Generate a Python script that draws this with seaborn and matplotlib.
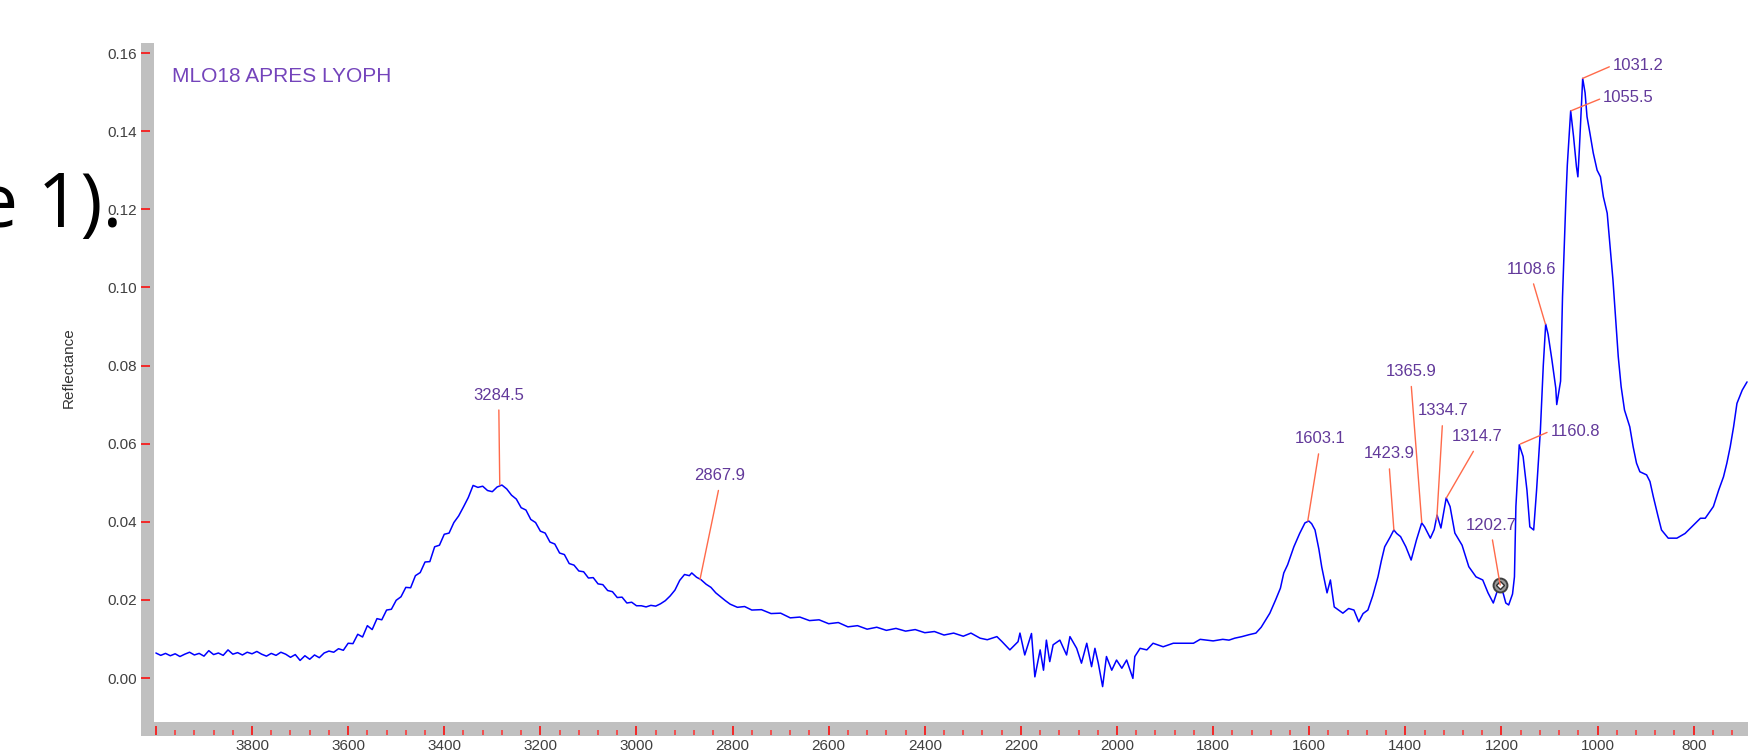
import matplotlib
matplotlib.use("Agg")
import matplotlib.pyplot as plt
from matplotlib.patches import Rectangle
import seaborn as sns

# Spectrum (wavenumber cm-1, reflectance)
wavenumber = [
    4000, 3990, 3980, 3970, 3960, 3950, 3940, 3930, 3920, 3910, 3900, 3890, 3880, 3870, 3860,
    3850, 3840, 3830, 3820, 3810, 3800, 3790, 3780, 3770, 3760, 3750, 3740, 3730, 3720, 3710,
    3700, 3690, 3680, 3670, 3660, 3650, 3640, 3630, 3620, 3610, 3600, 3590, 3580, 3570, 3560,
    3550, 3540, 3530, 3520, 3510, 3500, 3490, 3480, 3470, 3460, 3450, 3440, 3430, 3420, 3410,
    3400, 3390, 3380, 3370, 3360, 3350, 3340, 3330, 3320, 3310, 3300, 3290, 3280, 3270, 3260,
    3250, 3240, 3230, 3220, 3210, 3200, 3190, 3180, 3170, 3160, 3150, 3140, 3130, 3120, 3110,
    3100, 3090, 3080, 3070, 3060, 3050, 3040, 3030, 3020, 3010, 3000, 2990, 2980, 2970, 2960,
    2950, 2940, 2930, 2920, 2910, 2900, 2890, 2885, 2875, 2866, 2855, 2845, 2835, 2825, 2815,
    2805, 2790, 2775, 2760, 2740, 2720, 2700, 2680, 2660, 2640, 2620, 2600, 2580, 2560, 2540,
    2520, 2500, 2480, 2460, 2440, 2420, 2400, 2380, 2360, 2340, 2320, 2304, 2285, 2270, 2250,
    2240, 2223, 2206, 2202, 2192, 2178, 2171, 2160, 2153, 2147, 2140, 2133, 2119, 2105, 2098,
    2084, 2074, 2063, 2053, 2046, 2039, 2030, 2022, 2011, 2001, 1990, 1980, 1967, 1963, 1952,
    1938, 1925, 1904, 1883, 1862, 1841, 1827, 1800, 1780, 1767, 1755, 1740, 1725, 1711, 1700,
    1690, 1682, 1670, 1660, 1653, 1645, 1632, 1620, 1609, 1601, 1595, 1588, 1580, 1574, 1563,
    1556, 1548, 1540, 1530, 1518, 1507, 1497, 1488, 1478, 1468, 1457, 1450, 1443, 1432, 1424,
    1418, 1410, 1399, 1388, 1377, 1366, 1360, 1348, 1340, 1334, 1326, 1315, 1307, 1297, 1282,
    1268, 1253, 1239, 1228, 1217, 1210, 1203, 1196, 1191, 1185, 1177, 1173, 1170, 1163, 1155,
    1147, 1141, 1133, 1127, 1119, 1113, 1108, 1103, 1095, 1087, 1085, 1077, 1073, 1069, 1066,
    1063, 1056, 1050, 1044, 1041, 1038, 1035, 1031, 1026, 1022, 1016, 1009, 1001, 994, 988,
    980, 974, 968, 963, 957, 951, 944, 933, 926, 919, 912, 898, 891, 884, 874,
    867, 853, 835, 818, 800, 786, 776, 759, 748, 738, 731, 724, 717, 710, 699,
    689,
]
reflectance = [
    0.0064, 0.0058, 0.0063, 0.0057, 0.0062, 0.0055, 0.0061, 0.0066, 0.0059, 0.0063, 0.0056, 0.0070, 0.0060, 0.0064, 0.0058,
    0.0072, 0.0061, 0.0065, 0.0059, 0.0066, 0.0062, 0.0068, 0.0061, 0.0056, 0.0063, 0.0058, 0.0066, 0.0061, 0.0053, 0.0060,
    0.0045, 0.0057, 0.0048, 0.0059, 0.0052, 0.0064, 0.0069, 0.0066, 0.0075, 0.0071, 0.0089, 0.0088, 0.0112, 0.0105, 0.0134,
    0.0124, 0.0152, 0.0149, 0.0174, 0.0176, 0.0199, 0.0208, 0.0232, 0.0231, 0.0262, 0.0270, 0.0297, 0.0298, 0.0336, 0.0340,
    0.0368, 0.0371, 0.0398, 0.0415, 0.0438, 0.0462, 0.0493, 0.0488, 0.0491, 0.0480, 0.0477, 0.0489, 0.0494, 0.0484, 0.0468,
    0.0458, 0.0436, 0.0430, 0.0406, 0.0398, 0.0376, 0.0371, 0.0348, 0.0343, 0.0320, 0.0316, 0.0293, 0.0289, 0.0274, 0.0272,
    0.0256, 0.0257, 0.0241, 0.0239, 0.0224, 0.0221, 0.0206, 0.0207, 0.0192, 0.0194, 0.0185, 0.0185, 0.0182, 0.0186, 0.0184,
    0.0190, 0.0198, 0.0210, 0.0225, 0.0250, 0.0265, 0.0262, 0.0269, 0.0258, 0.0252, 0.0240, 0.0232, 0.0218, 0.0208, 0.0198,
    0.0189, 0.0181, 0.0183, 0.0174, 0.0175, 0.0165, 0.0166, 0.0154, 0.0156, 0.0147, 0.0149, 0.0139, 0.0142, 0.0131, 0.0134,
    0.0125, 0.0130, 0.0122, 0.0127, 0.0120, 0.0124, 0.0116, 0.0119, 0.0110, 0.0115, 0.0107, 0.0115, 0.0102, 0.0098, 0.0106,
    0.0094, 0.0072, 0.0093, 0.0115, 0.0059, 0.0114, 0.0003, 0.0072, 0.0020, 0.0097, 0.0042, 0.0085, 0.0097, 0.0059, 0.0106,
    0.0076, 0.0038, 0.0089, 0.0029, 0.0076, 0.0038, -0.0022, 0.0055, 0.0020, 0.0046, 0.0025, 0.0046, -0.0001, 0.0055, 0.0076,
    0.0072, 0.0089, 0.0080, 0.0089, 0.0089, 0.0089, 0.0099, 0.0095, 0.0099, 0.0097, 0.0102, 0.0106, 0.0111, 0.0115, 0.0130,
    0.0150, 0.0166, 0.0200, 0.0230, 0.0269, 0.0290, 0.0336, 0.0370, 0.0397, 0.0402, 0.0395, 0.0379, 0.0330, 0.0284, 0.0218,
    0.0251, 0.0182, 0.0175, 0.0166, 0.0178, 0.0174, 0.0144, 0.0165, 0.0174, 0.0210, 0.0259, 0.0300, 0.0336, 0.0360, 0.0379,
    0.0370, 0.0362, 0.0336, 0.0302, 0.0353, 0.0397, 0.0387, 0.0358, 0.0380, 0.0417, 0.0384, 0.0461, 0.0439, 0.0371, 0.0340,
    0.0285, 0.0259, 0.0251, 0.0218, 0.0192, 0.0218, 0.0238, 0.0215, 0.0192, 0.0187, 0.0215, 0.0259, 0.0439, 0.0597, 0.0567,
    0.0481, 0.0387, 0.0379, 0.0480, 0.0635, 0.0800, 0.0906, 0.0880, 0.0814, 0.0742, 0.0700, 0.0760, 0.0975, 0.1120, 0.1224,
    0.1313, 0.1452, 0.1386, 0.1309, 0.1283, 0.1352, 0.1428, 0.1535, 0.1498, 0.1437, 0.1395, 0.1344, 0.1300, 0.1283, 0.1232,
    0.1190, 0.1104, 0.1019, 0.0930, 0.0823, 0.0746, 0.0686, 0.0643, 0.0592, 0.0550, 0.0528, 0.0520, 0.0503, 0.0464, 0.0413,
    0.0379, 0.0358, 0.0358, 0.0370, 0.0392, 0.0409, 0.0409, 0.0439, 0.0481, 0.0515, 0.0550, 0.0592, 0.0643, 0.0703, 0.0737,
    0.0758,
]

# Peak picks
peak_labels = ["3284.5", "2867.9", "1603.1", "1423.9", "1365.9", "1334.7",
               "1314.7", "1202.7", "1160.8", "1108.6", "1055.5", "1031.2"]
peak_wn = [3284.5, 2867.9, 1603.1, 1423.9, 1365.9, 1334.7,
           1314.7, 1202.7, 1160.8, 1108.6, 1055.5, 1031.2]
peak_refl = [0.0494, 0.0252, 0.0402, 0.0379, 0.0398, 0.0405,
             0.0461, 0.0238, 0.0599, 0.0906, 0.1452, 0.1535]
cursor_wn = 1202.7
cursor_refl = 0.0238

x_ticks = [4000, 3800, 3600, 3400, 3200, 3000, 2800, 2600, 2400, 2200,
           2000, 1800, 1600, 1400, 1200, 1000, 800]
x_tick_labels = ["", "3800", "3600", "3400", "3200", "3000", "2800", "2600", "2400", "2200",
                 "2000", "1800", "1600", "1400", "1200", "1000", "800"]
y_ticks = [0.00, 0.02, 0.04, 0.06, 0.08, 0.10, 0.12, 0.14, 0.16]
y_tick_labels = ["0.00", "0.02", "0.04", "0.06", "0.08", "0.10", "0.12", "0.14", "0.16"]

title = "MLO18 APRES LYOPH"
y_label = "Reflectance"

# label placement (pixel offsets from the peak tip, text alignment)
label_offsets = [(-1, 90, "center"), (20, 104, "center"), (12, 82, "center"),
                 (-5, 76, "center"), (-11, 151, "center"), (6, 109, "center"),
                 (31, 61, "center"), (-9, 60, "center"), (30, 13, "left"),
                 (-14, 55, "center"), (32, 13, "left"), (30, 13, "left")]

sns.set_style("white")
plt.rcParams["font.family"] = ["Liberation Sans", "DejaVu Sans"]

W, H = 1748, 755
fig = plt.figure(figsize=(W / 100, H / 100), dpi=100)
ax = fig.add_axes([154 / W, 1 - 722 / H, (W - 154) / W, (722 - 43) / H])

sns.lineplot(x=wavenumber, y=reflectance, ax=ax, color="#0000ff", linewidth=1.1,
             estimator=None, sort=False)

ax.set_xlim(4004, 687)
ax.set_ylim(-0.01126, 0.16256)

# gray frame of the instrument software
fig.add_artist(Rectangle((141 / W, 1 - 736 / H), 13 / W, (736 - 43) / H,
                         transform=fig.transFigure, color="#c0c0c0", zorder=-1, lw=0))
fig.add_artist(Rectangle((141 / W, 1 - 736 / H), (W - 141) / W, 14 / H,
                         transform=fig.transFigure, color="#c0c0c0", zorder=-1, lw=0))

for s in ax.spines.values():
    s.set_visible(False)
ax.spines["left"].set_position(("outward", 9.4))
ax.spines["bottom"].set_position(("outward", 9.4))

ax.set_xticks(x_ticks)
ax.set_xticklabels(x_tick_labels)
ax.set_xticks(list(range(4000, 700, -40)), minor=True)
ax.set_yticks(y_ticks)
ax.set_yticklabels(y_tick_labels)
ax.tick_params(which="both", left=True, bottom=True, top=False, right=False)
ax.tick_params(axis="both", which="major", direction="in", length=6.5, width=1.1,
               color="#ff0000", labelsize=11, labelcolor="#404040", pad=2.5)
ax.tick_params(axis="x", which="minor", direction="in", length=3.5, width=1.1, color="#ff3030")
ax.set_xlabel("")
ax.set_ylabel("")

# peak annotations
for lab, wn, rf, (dx, dy, ha) in zip(peak_labels, peak_wn, peak_refl, label_offsets):
    relpos = (0.5, 0.0) if ha == "center" else (0.0, 0.5)
    ax.annotate(lab, xy=(wn, rf), xytext=(dx, dy), textcoords="offset pixels",
                ha=ha, va="center", fontsize=12, color="#62399a",
                arrowprops=dict(arrowstyle="-", color="#ff6a4a", lw=1.0,
                                shrinkA=3 if ha == "center" else 0, shrinkB=0,
                                relpos=relpos))

ax.plot([cursor_wn], [cursor_refl], marker="o", ms=10, mfc="#9a9a9a", mec="#404040", mew=1.4)
ax.plot([cursor_wn], [cursor_refl], marker="D", ms=4.5, mfc="white", mec="#303030", mew=1.0)

fig.text(172 / W, 1 - 77 / H, title, ha="left", va="center", fontsize=15, color="#7444bb")
fig.text(69 / W, 1 - 368 / H, y_label, rotation=90, ha="center", va="center",
         fontsize=11, color="#333333")

# fragment of the surrounding document text
fig.text(122 / W, 1 - 227 / H, "e 1).", ha="right", va="baseline", fontsize=54,
         family=["Open Sans", "DejaVu Sans"], color="black")

fig.savefig("out.png", dpi=100)
